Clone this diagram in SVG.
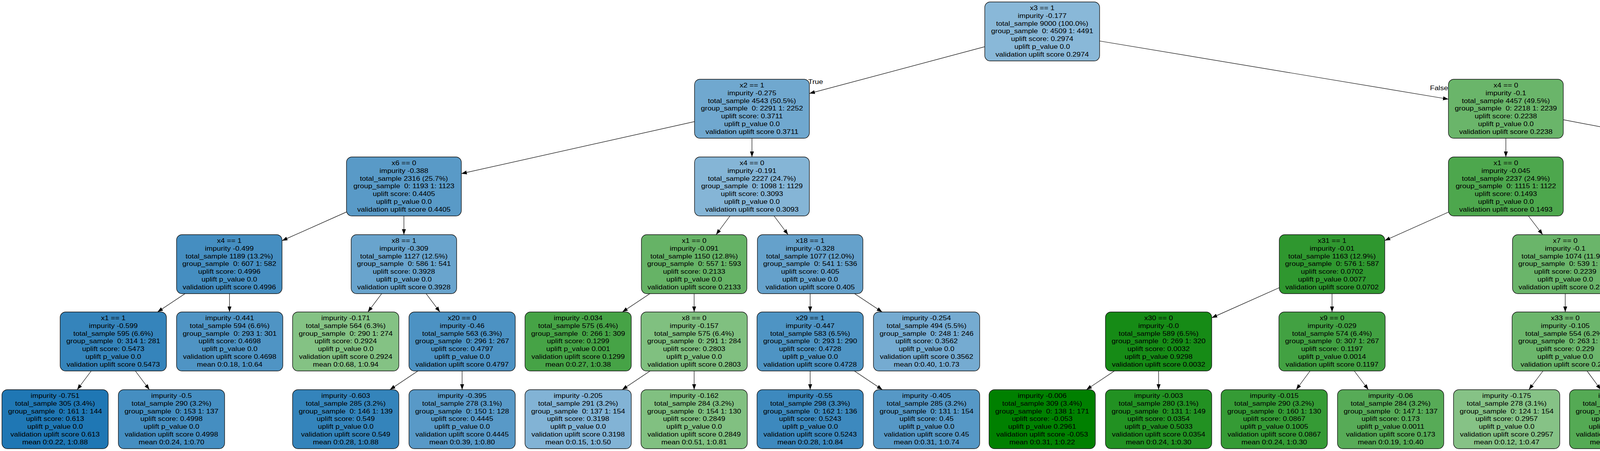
<svg xmlns="http://www.w3.org/2000/svg" width="6080" height="1155" viewBox="0 0 6080 1155">
<style>
.node rect{stroke:#111;stroke-width:1.4}
text{font-family:"Liberation Sans",Arial,Helvetica,sans-serif;font-size:16.5px;text-anchor:middle;white-space:pre;fill:#000}
.edges line{stroke:#000;stroke-width:1.2;marker-end:url(#ah)}
.edges text.st{text-anchor:start}
.edges text.en{text-anchor:end}
</style>
<defs>
<marker id="ah" viewBox="0 0 14 10" refX="14" refY="5" markerWidth="14" markerHeight="10" markerUnits="userSpaceOnUse" orient="auto"><path d="M0,0 L14,5 L0,10 z" fill="#000"/></marker>
</defs>
<rect width="6080" height="1155" fill="#fff"/>
<g id="edges" class="edges">
<line x1="2521" y1="119.7" x2="2072" y2="239.3"/>
<line x1="2815" y1="105" x2="3708" y2="254"/>
<line x1="1778" y1="311.3" x2="1181" y2="444.7"/>
<line x1="1925" y1="354" x2="1925" y2="402"/>
<line x1="3855" y1="354" x2="3855" y2="402"/>
<line x1="4002" y1="306.6" x2="4748" y2="449.4"/>
<line x1="887" y1="542.9" x2="722" y2="616.4"/>
<line x1="1034" y1="553" x2="1034" y2="601"/>
<line x1="1868.8" y1="553" x2="1833.2" y2="601"/>
<line x1="1981.5" y1="553" x2="2017.5" y2="601"/>
<line x1="3708" y1="543.2" x2="3545" y2="616.1"/>
<line x1="3912.7" y1="553" x2="3949.3" y2="601"/>
<line x1="4895" y1="553" x2="4895" y2="601"/>
<line x1="5042" y1="542.7" x2="5209" y2="616.7"/>
<line x1="473.8" y1="752" x2="403.2" y2="799"/>
<line x1="587.5" y1="752" x2="587.5" y2="799"/>
<line x1="977.2" y1="752" x2="941.8" y2="799"/>
<line x1="1090.8" y1="752" x2="1126.2" y2="799"/>
<line x1="1663.8" y1="752" x2="1593.2" y2="799"/>
<line x1="1777" y1="752" x2="1777" y2="799"/>
<line x1="2074" y1="752" x2="2074" y2="799"/>
<line x1="2187.6" y1="752" x2="2258.4" y2="799"/>
<line x1="3275" y1="736.7" x2="3102" y2="813.9"/>
<line x1="3410" y1="752" x2="3410" y2="799"/>
<line x1="4007" y1="752" x2="4007" y2="799"/>
<line x1="4142" y1="736.6" x2="4316" y2="814"/>
<line x1="4839.3" y1="752" x2="4804.7" y2="799"/>
<line x1="4952.6" y1="752" x2="4988.4" y2="799"/>
<line x1="5344" y1="752" x2="5344" y2="799"/>
<line x1="5457.2" y1="752" x2="5527.8" y2="799"/>
<line x1="233.5" y1="950" x2="197.5" y2="998"/>
<line x1="346.5" y1="950" x2="382.5" y2="998"/>
<line x1="1069.9" y1="950" x2="998.1" y2="998"/>
<line x1="1183" y1="950" x2="1183" y2="998"/>
<line x1="1664.3" y1="950" x2="1592.7" y2="998"/>
<line x1="1777" y1="950" x2="1777" y2="998"/>
<line x1="2074" y1="950" x2="2074" y2="998"/>
<line x1="2187.1" y1="950" x2="2258.9" y2="998"/>
<line x1="2852.9" y1="950" x2="2781.1" y2="998"/>
<line x1="2966" y1="950" x2="2966" y2="998"/>
<line x1="3353.8" y1="950" x2="3318.2" y2="998"/>
<line x1="3466.9" y1="950" x2="3503.1" y2="998"/>
<line x1="3950.1" y1="950" x2="3913.9" y2="998"/>
<line x1="4062.8" y1="950" x2="4098.2" y2="998"/>
<line x1="4452" y1="950" x2="4452" y2="998"/>
<line x1="4564.7" y1="950" x2="4636.3" y2="998"/>
<line x1="5046" y1="950" x2="5046" y2="998"/>
<line x1="5159.4" y1="950" x2="5231.6" y2="998"/>
<line x1="5641" y1="950" x2="5641" y2="998"/>
<line x1="5753.7" y1="950" x2="5825.3" y2="998"/>
<text class="st" transform="translate(2069 215) scale(1.145 1)">True</text>
<text class="en" transform="translate(3707 231) scale(1.145 1)">False</text>
</g>
<g id="n0" class="node"><rect x="2521" y="5" width="294" height="151" rx="14" fill="#89b8d8"/><text transform="translate(2668 26) scale(1.145 1)"><tspan x="0">x3 == 1</tspan><tspan x="0" dy="19.8">impurity -0.177</tspan><tspan x="0" dy="19.8">total_sample 9000 (100.0%)</tspan><tspan x="0" dy="19.8">group_sample  0: 4509 1: 4491</tspan><tspan x="0" dy="19.8">uplift score: 0.2974</tspan><tspan x="0" dy="19.8">uplift p_value 0.0</tspan><tspan x="0" dy="19.8">validation uplift score 0.2974</tspan></text></g>
<g id="n1" class="node"><rect x="1778" y="203" width="294" height="151" rx="14" fill="#70a8cf"/><text transform="translate(1925 224) scale(1.145 1)"><tspan x="0">x2 == 1</tspan><tspan x="0" dy="19.8">impurity -0.275</tspan><tspan x="0" dy="19.8">total_sample 4543 (50.5%)</tspan><tspan x="0" dy="19.8">group_sample  0: 2291 1: 2252</tspan><tspan x="0" dy="19.8">uplift score: 0.3711</tspan><tspan x="0" dy="19.8">uplift p_value 0.0</tspan><tspan x="0" dy="19.8">validation uplift score 0.3711</tspan></text></g>
<g id="n2" class="node"><rect x="3708" y="203" width="294" height="151" rx="14" fill="#6ab56a"/><text transform="translate(3855 224) scale(1.145 1)"><tspan x="0">x4 == 0</tspan><tspan x="0" dy="19.8">impurity -0.1</tspan><tspan x="0" dy="19.8">total_sample 4457 (49.5%)</tspan><tspan x="0" dy="19.8">group_sample  0: 2218 1: 2239</tspan><tspan x="0" dy="19.8">uplift score: 0.2238</tspan><tspan x="0" dy="19.8">uplift p_value 0.0</tspan><tspan x="0" dy="19.8">validation uplift score 0.2238</tspan></text></g>
<g id="n3" class="node"><rect x="887" y="402" width="294" height="151" rx="14" fill="#599ac7"/><text transform="translate(1034 423) scale(1.145 1)"><tspan x="0">x6 == 0</tspan><tspan x="0" dy="19.8">impurity -0.388</tspan><tspan x="0" dy="19.8">total_sample 2316 (25.7%)</tspan><tspan x="0" dy="19.8">group_sample  0: 1193 1: 1123</tspan><tspan x="0" dy="19.8">uplift score: 0.4405</tspan><tspan x="0" dy="19.8">uplift p_value 0.0</tspan><tspan x="0" dy="19.8">validation uplift score 0.4405</tspan></text></g>
<g id="n4" class="node"><rect x="1778" y="402" width="294" height="151" rx="14" fill="#85b5d6"/><text transform="translate(1925 423) scale(1.145 1)"><tspan x="0">x4 == 0</tspan><tspan x="0" dy="19.8">impurity -0.191</tspan><tspan x="0" dy="19.8">total_sample 2227 (24.7%)</tspan><tspan x="0" dy="19.8">group_sample  0: 1098 1: 1129</tspan><tspan x="0" dy="19.8">uplift score: 0.3093</tspan><tspan x="0" dy="19.8">uplift p_value 0.0</tspan><tspan x="0" dy="19.8">validation uplift score 0.3093</tspan></text></g>
<g id="n5" class="node"><rect x="3708" y="402" width="294" height="151" rx="14" fill="#4da74d"/><text transform="translate(3855 423) scale(1.145 1)"><tspan x="0">x1 == 0</tspan><tspan x="0" dy="19.8">impurity -0.045</tspan><tspan x="0" dy="19.8">total_sample 2237 (24.9%)</tspan><tspan x="0" dy="19.8">group_sample  0: 1115 1: 1122</tspan><tspan x="0" dy="19.8">uplift score: 0.1493</tspan><tspan x="0" dy="19.8">uplift p_value 0.0</tspan><tspan x="0" dy="19.8">validation uplift score 0.1493</tspan></text></g>
<g id="n6" class="node"><rect x="4748" y="402" width="294" height="151" rx="14" fill="#84c284"/><text transform="translate(4895 423) scale(1.145 1)"><tspan x="0">x2 == 1</tspan><tspan x="0" dy="19.8">impurity -0.171</tspan><tspan x="0" dy="19.8">total_sample 2220 (24.7%)</tspan><tspan x="0" dy="19.8">group_sample  0: 1103 1: 1117</tspan><tspan x="0" dy="19.8">uplift score: 0.2925</tspan><tspan x="0" dy="19.8">uplift p_value 0.0</tspan><tspan x="0" dy="19.8">validation uplift score 0.2925</tspan></text></g>
<g id="n7" class="node"><rect x="452" y="601" width="270" height="151" rx="14" fill="#458ec1"/><text transform="translate(587 622) scale(1.145 1)"><tspan x="0">x4 == 1</tspan><tspan x="0" dy="19.8">impurity -0.499</tspan><tspan x="0" dy="19.8">total_sample 1189 (13.2%)</tspan><tspan x="0" dy="19.8">group_sample  0: 607 1: 582</tspan><tspan x="0" dy="19.8">uplift score: 0.4996</tspan><tspan x="0" dy="19.8">uplift p_value 0.0</tspan><tspan x="0" dy="19.8">validation uplift score 0.4996</tspan></text></g>
<g id="n8" class="node"><rect x="899" y="601" width="270" height="151" rx="14" fill="#69a4cd"/><text transform="translate(1034 622) scale(1.145 1)"><tspan x="0">x8 == 1</tspan><tspan x="0" dy="19.8">impurity -0.309</tspan><tspan x="0" dy="19.8">total_sample 1127 (12.5%)</tspan><tspan x="0" dy="19.8">group_sample  0: 586 1: 541</tspan><tspan x="0" dy="19.8">uplift score: 0.3928</tspan><tspan x="0" dy="19.8">uplift p_value 0.0</tspan><tspan x="0" dy="19.8">validation uplift score 0.3928</tspan></text></g>
<g id="n9" class="node"><rect x="1642" y="601" width="270" height="151" rx="14" fill="#66b366"/><text transform="translate(1777 622) scale(1.145 1)"><tspan x="0">x1 == 0</tspan><tspan x="0" dy="19.8">impurity -0.091</tspan><tspan x="0" dy="19.8">total_sample 1150 (12.8%)</tspan><tspan x="0" dy="19.8">group_sample  0: 557 1: 593</tspan><tspan x="0" dy="19.8">uplift score: 0.2133</tspan><tspan x="0" dy="19.8">uplift p_value 0.0</tspan><tspan x="0" dy="19.8">validation uplift score 0.2133</tspan></text></g>
<g id="n10" class="node"><rect x="1939" y="601" width="270" height="151" rx="14" fill="#65a1cb"/><text transform="translate(2074 622) scale(1.145 1)"><tspan x="0">x18 == 1</tspan><tspan x="0" dy="19.8">impurity -0.328</tspan><tspan x="0" dy="19.8">total_sample 1077 (12.0%)</tspan><tspan x="0" dy="19.8">group_sample  0: 541 1: 536</tspan><tspan x="0" dy="19.8">uplift score: 0.405</tspan><tspan x="0" dy="19.8">uplift p_value 0.0</tspan><tspan x="0" dy="19.8">validation uplift score 0.405</tspan></text></g>
<g id="n11" class="node"><rect x="3275" y="601" width="270" height="151" rx="14" fill="#2f972f"/><text transform="translate(3410 622) scale(1.145 1)"><tspan x="0">x31 == 1</tspan><tspan x="0" dy="19.8">impurity -0.01</tspan><tspan x="0" dy="19.8">total_sample 1163 (12.9%)</tspan><tspan x="0" dy="19.8">group_sample  0: 576 1: 587</tspan><tspan x="0" dy="19.8">uplift score: 0.0702</tspan><tspan x="0" dy="19.8">uplift p_value 0.0077</tspan><tspan x="0" dy="19.8">validation uplift score 0.0702</tspan></text></g>
<g id="n12" class="node"><rect x="3872" y="601" width="270" height="151" rx="14" fill="#6ab56a"/><text transform="translate(4007 622) scale(1.145 1)"><tspan x="0">x7 == 0</tspan><tspan x="0" dy="19.8">impurity -0.1</tspan><tspan x="0" dy="19.8">total_sample 1074 (11.9%)</tspan><tspan x="0" dy="19.8">group_sample  0: 539 1: 535</tspan><tspan x="0" dy="19.8">uplift score: 0.2239</tspan><tspan x="0" dy="19.8">uplift p_value 0.0</tspan><tspan x="0" dy="19.8">validation uplift score 0.2239</tspan></text></g>
<g id="n13" class="node"><rect x="4760" y="601" width="270" height="151" rx="14" fill="#71a9cf"/><text transform="translate(4895 622) scale(1.145 1)"><tspan x="0">x29 == 0</tspan><tspan x="0" dy="19.8">impurity -0.273</tspan><tspan x="0" dy="19.8">total_sample 1119 (12.4%)</tspan><tspan x="0" dy="19.8">group_sample  0: 578 1: 541</tspan><tspan x="0" dy="19.8">uplift score: 0.3696</tspan><tspan x="0" dy="19.8">uplift p_value 0.0</tspan><tspan x="0" dy="19.8">validation uplift score 0.3696</tspan></text></g>
<g id="n14" class="node"><rect x="5209" y="601" width="270" height="151" rx="14" fill="#6eb76e"/><text transform="translate(5344 622) scale(1.145 1)"><tspan x="0">x6 == 1</tspan><tspan x="0" dy="19.8">impurity -0.109</tspan><tspan x="0" dy="19.8">total_sample 1101 (12.2%)</tspan><tspan x="0" dy="19.8">group_sample  0: 525 1: 576</tspan><tspan x="0" dy="19.8">uplift score: 0.2333</tspan><tspan x="0" dy="19.8">uplift p_value 0.0</tspan><tspan x="0" dy="19.8">validation uplift score 0.2333</tspan></text></g>
<g id="n15" class="node"><rect x="154" y="799" width="272" height="151" rx="14" fill="#3584bb"/><text transform="translate(290 820) scale(1.145 1)"><tspan x="0">x1 == 1</tspan><tspan x="0" dy="19.8">impurity -0.599</tspan><tspan x="0" dy="19.8">total_sample 595 (6.6%)</tspan><tspan x="0" dy="19.8">group_sample  0: 314 1: 281</tspan><tspan x="0" dy="19.8">uplift score: 0.5473</tspan><tspan x="0" dy="19.8">uplift p_value 0.0</tspan><tspan x="0" dy="19.8">validation uplift score 0.5473</tspan></text></g>
<g id="n16" class="node"><rect x="452" y="799" width="272" height="151" rx="14" fill="#4f94c4"/><text transform="translate(588 820) scale(1.145 1)"><tspan x="0">impurity -0.441</tspan><tspan x="0" dy="19.8">total_sample 594 (6.6%)</tspan><tspan x="0" dy="19.8">group_sample  0: 293 1: 301</tspan><tspan x="0" dy="19.8">uplift score: 0.4698</tspan><tspan x="0" dy="19.8">uplift p_value 0.0</tspan><tspan x="0" dy="19.8">validation uplift score 0.4698</tspan><tspan x="0" dy="19.8">mean 0:0.18, 1:0.64</tspan></text></g>
<g id="n17" class="node"><rect x="749" y="799" width="272" height="151" rx="14" fill="#84c284"/><text transform="translate(885 820) scale(1.145 1)"><tspan x="0">impurity -0.171</tspan><tspan x="0" dy="19.8">total_sample 564 (6.3%)</tspan><tspan x="0" dy="19.8">group_sample  0: 290 1: 274</tspan><tspan x="0" dy="19.8">uplift score: 0.2924</tspan><tspan x="0" dy="19.8">uplift p_value 0.0</tspan><tspan x="0" dy="19.8">validation uplift score 0.2924</tspan><tspan x="0" dy="19.8">mean 0:0.68, 1:0.94</tspan></text></g>
<g id="n18" class="node"><rect x="1047" y="799" width="272" height="151" rx="14" fill="#4c92c3"/><text transform="translate(1183 820) scale(1.145 1)"><tspan x="0">x20 == 0</tspan><tspan x="0" dy="19.8">impurity -0.46</tspan><tspan x="0" dy="19.8">total_sample 563 (6.3%)</tspan><tspan x="0" dy="19.8">group_sample  0: 296 1: 267</tspan><tspan x="0" dy="19.8">uplift score: 0.4797</tspan><tspan x="0" dy="19.8">uplift p_value 0.0</tspan><tspan x="0" dy="19.8">validation uplift score 0.4797</tspan></text></g>
<g id="n19" class="node"><rect x="1344" y="799" width="272" height="151" rx="14" fill="#46a346"/><text transform="translate(1480 820) scale(1.145 1)"><tspan x="0">impurity -0.034</tspan><tspan x="0" dy="19.8">total_sample 575 (6.4%)</tspan><tspan x="0" dy="19.8">group_sample  0: 266 1: 309</tspan><tspan x="0" dy="19.8">uplift score: 0.1299</tspan><tspan x="0" dy="19.8">uplift p_value 0.001</tspan><tspan x="0" dy="19.8">validation uplift score 0.1299</tspan><tspan x="0" dy="19.8">mean 0:0.27, 1:0.38</tspan></text></g>
<g id="n20" class="node"><rect x="1641" y="799" width="272" height="151" rx="14" fill="#80c080"/><text transform="translate(1777 820) scale(1.145 1)"><tspan x="0">x8 == 0</tspan><tspan x="0" dy="19.8">impurity -0.157</tspan><tspan x="0" dy="19.8">total_sample 575 (6.4%)</tspan><tspan x="0" dy="19.8">group_sample  0: 291 1: 284</tspan><tspan x="0" dy="19.8">uplift score: 0.2803</tspan><tspan x="0" dy="19.8">uplift p_value 0.0</tspan><tspan x="0" dy="19.8">validation uplift score 0.2803</tspan></text></g>
<g id="n21" class="node"><rect x="1938" y="799" width="272" height="151" rx="14" fill="#4e94c4"/><text transform="translate(2074 820) scale(1.145 1)"><tspan x="0">x29 == 1</tspan><tspan x="0" dy="19.8">impurity -0.447</tspan><tspan x="0" dy="19.8">total_sample 583 (6.5%)</tspan><tspan x="0" dy="19.8">group_sample  0: 293 1: 290</tspan><tspan x="0" dy="19.8">uplift score: 0.4728</tspan><tspan x="0" dy="19.8">uplift p_value 0.0</tspan><tspan x="0" dy="19.8">validation uplift score 0.4728</tspan></text></g>
<g id="n22" class="node"><rect x="2236" y="799" width="272" height="151" rx="14" fill="#75abd1"/><text transform="translate(2372 820) scale(1.145 1)"><tspan x="0">impurity -0.254</tspan><tspan x="0" dy="19.8">total_sample 494 (5.5%)</tspan><tspan x="0" dy="19.8">group_sample  0: 248 1: 246</tspan><tspan x="0" dy="19.8">uplift score: 0.3562</tspan><tspan x="0" dy="19.8">uplift p_value 0.0</tspan><tspan x="0" dy="19.8">validation uplift score 0.3562</tspan><tspan x="0" dy="19.8">mean 0:0.40, 1:0.73</tspan></text></g>
<g id="n23" class="node"><rect x="2830" y="799" width="272" height="151" rx="14" fill="#168b16"/><text transform="translate(2966 820) scale(1.145 1)"><tspan x="0">x30 == 0</tspan><tspan x="0" dy="19.8">impurity -0.0</tspan><tspan x="0" dy="19.8">total_sample 589 (6.5%)</tspan><tspan x="0" dy="19.8">group_sample  0: 269 1: 320</tspan><tspan x="0" dy="19.8">uplift score: 0.0032</tspan><tspan x="0" dy="19.8">uplift p_value 0.9298</tspan><tspan x="0" dy="19.8">validation uplift score 0.0032</tspan></text></g>
<g id="n24" class="node"><rect x="3274" y="799" width="272" height="151" rx="14" fill="#42a142"/><text transform="translate(3410 820) scale(1.145 1)"><tspan x="0">x9 == 0</tspan><tspan x="0" dy="19.8">impurity -0.029</tspan><tspan x="0" dy="19.8">total_sample 574 (6.4%)</tspan><tspan x="0" dy="19.8">group_sample  0: 307 1: 267</tspan><tspan x="0" dy="19.8">uplift score: 0.1197</tspan><tspan x="0" dy="19.8">uplift p_value 0.0014</tspan><tspan x="0" dy="19.8">validation uplift score 0.1197</tspan></text></g>
<g id="n25" class="node"><rect x="3871" y="799" width="272" height="151" rx="14" fill="#6cb66c"/><text transform="translate(4007 820) scale(1.145 1)"><tspan x="0">x33 == 0</tspan><tspan x="0" dy="19.8">impurity -0.105</tspan><tspan x="0" dy="19.8">total_sample 554 (6.2%)</tspan><tspan x="0" dy="19.8">group_sample  0: 263 1: 291</tspan><tspan x="0" dy="19.8">uplift score: 0.229</tspan><tspan x="0" dy="19.8">uplift p_value 0.0</tspan><tspan x="0" dy="19.8">validation uplift score 0.229</tspan></text></g>
<g id="n26" class="node"><rect x="4316" y="799" width="272" height="151" rx="14" fill="#77bb77"/><text transform="translate(4452 820) scale(1.145 1)"><tspan x="0">x12 == 1</tspan><tspan x="0" dy="19.8">impurity -0.132</tspan><tspan x="0" dy="19.8">total_sample 520 (5.8%)</tspan><tspan x="0" dy="19.8">group_sample  0: 276 1: 244</tspan><tspan x="0" dy="19.8">uplift score: 0.2572</tspan><tspan x="0" dy="19.8">uplift p_value 0.0</tspan><tspan x="0" dy="19.8">validation uplift score 0.2572</tspan></text></g>
<g id="n27" class="node"><rect x="4613" y="799" width="272" height="151" rx="14" fill="#7db0d3"/><text transform="translate(4749 820) scale(1.145 1)"><tspan x="0">impurity -0.223</tspan><tspan x="0" dy="19.8">total_sample 598 (6.6%)</tspan><tspan x="0" dy="19.8">group_sample  0: 303 1: 295</tspan><tspan x="0" dy="19.8">uplift score: 0.3337</tspan><tspan x="0" dy="19.8">uplift p_value 0.0</tspan><tspan x="0" dy="19.8">validation uplift score 0.3337</tspan><tspan x="0" dy="19.8">mean 0:0.36, 1:0.68</tspan></text></g>
<g id="n28" class="node"><rect x="4910" y="799" width="272" height="151" rx="14" fill="#5c9cc8"/><text transform="translate(5046 820) scale(1.145 1)"><tspan x="0">x8 == 0</tspan><tspan x="0" dy="19.8">impurity -0.375</tspan><tspan x="0" dy="19.8">total_sample 521 (5.8%)</tspan><tspan x="0" dy="19.8">group_sample  0: 275 1: 246</tspan><tspan x="0" dy="19.8">uplift score: 0.4327</tspan><tspan x="0" dy="19.8">uplift p_value 0.0</tspan><tspan x="0" dy="19.8">validation uplift score 0.4327</tspan></text></g>
<g id="n29" class="node"><rect x="5208" y="799" width="272" height="151" rx="14" fill="#58ac58"/><text transform="translate(5344 820) scale(1.145 1)"><tspan x="0">impurity -0.062</tspan><tspan x="0" dy="19.8">total_sample 556 (6.2%)</tspan><tspan x="0" dy="19.8">group_sample  0: 274 1: 282</tspan><tspan x="0" dy="19.8">uplift score: 0.1758</tspan><tspan x="0" dy="19.8">uplift p_value 0.0</tspan><tspan x="0" dy="19.8">validation uplift score 0.1758</tspan><tspan x="0" dy="19.8">mean 0:0.44, 1:0.59</tspan></text></g>
<g id="n30" class="node"><rect x="5505" y="799" width="272" height="151" rx="14" fill="#82c182"/><text transform="translate(5641 820) scale(1.145 1)"><tspan x="0">x8 == 1</tspan><tspan x="0" dy="19.8">impurity -0.163</tspan><tspan x="0" dy="19.8">total_sample 545 (6.1%)</tspan><tspan x="0" dy="19.8">group_sample  0: 251 1: 294</tspan><tspan x="0" dy="19.8">uplift score: 0.2856</tspan><tspan x="0" dy="19.8">uplift p_value 0.0</tspan><tspan x="0" dy="19.8">validation uplift score 0.2856</tspan></text></g>
<g id="n31" class="node"><rect x="5" y="998" width="272" height="151" rx="14" fill="#1f77b4"/><text transform="translate(141 1019) scale(1.145 1)"><tspan x="0">impurity -0.751</tspan><tspan x="0" dy="19.8">total_sample 305 (3.4%)</tspan><tspan x="0" dy="19.8">group_sample  0: 161 1: 144</tspan><tspan x="0" dy="19.8">uplift score: 0.613</tspan><tspan x="0" dy="19.8">uplift p_value 0.0</tspan><tspan x="0" dy="19.8">validation uplift score 0.613</tspan><tspan x="0" dy="19.8">mean 0:0.22, 1:0.88</tspan></text></g>
<g id="n32" class="node"><rect x="303" y="998" width="272" height="151" rx="14" fill="#458ec1"/><text transform="translate(439 1019) scale(1.145 1)"><tspan x="0">impurity -0.5</tspan><tspan x="0" dy="19.8">total_sample 290 (3.2%)</tspan><tspan x="0" dy="19.8">group_sample  0: 153 1: 137</tspan><tspan x="0" dy="19.8">uplift score: 0.4998</tspan><tspan x="0" dy="19.8">uplift p_value 0.0</tspan><tspan x="0" dy="19.8">validation uplift score 0.4998</tspan><tspan x="0" dy="19.8">mean 0:0.24, 1:0.70</tspan></text></g>
<g id="n33" class="node"><rect x="749" y="998" width="272" height="151" rx="14" fill="#3484bb"/><text transform="translate(885 1019) scale(1.145 1)"><tspan x="0">impurity -0.603</tspan><tspan x="0" dy="19.8">total_sample 285 (3.2%)</tspan><tspan x="0" dy="19.8">group_sample  0: 146 1: 139</tspan><tspan x="0" dy="19.8">uplift score: 0.549</tspan><tspan x="0" dy="19.8">uplift p_value 0.0</tspan><tspan x="0" dy="19.8">validation uplift score 0.549</tspan><tspan x="0" dy="19.8">mean 0:0.28, 1:0.88</tspan></text></g>
<g id="n34" class="node"><rect x="1047" y="998" width="272" height="151" rx="14" fill="#5899c7"/><text transform="translate(1183 1019) scale(1.145 1)"><tspan x="0">impurity -0.395</tspan><tspan x="0" dy="19.8">total_sample 278 (3.1%)</tspan><tspan x="0" dy="19.8">group_sample  0: 150 1: 128</tspan><tspan x="0" dy="19.8">uplift score: 0.4445</tspan><tspan x="0" dy="19.8">uplift p_value 0.0</tspan><tspan x="0" dy="19.8">validation uplift score 0.4445</tspan><tspan x="0" dy="19.8">mean 0:0.39, 1:0.80</tspan></text></g>
<g id="n35" class="node"><rect x="1344" y="998" width="272" height="151" rx="14" fill="#82b3d5"/><text transform="translate(1480 1019) scale(1.145 1)"><tspan x="0">impurity -0.205</tspan><tspan x="0" dy="19.8">total_sample 291 (3.2%)</tspan><tspan x="0" dy="19.8">group_sample  0: 137 1: 154</tspan><tspan x="0" dy="19.8">uplift score: 0.3198</tspan><tspan x="0" dy="19.8">uplift p_value 0.0</tspan><tspan x="0" dy="19.8">validation uplift score 0.3198</tspan><tspan x="0" dy="19.8">mean 0:0.15, 1:0.50</tspan></text></g>
<g id="n36" class="node"><rect x="1641" y="998" width="272" height="151" rx="14" fill="#81c081"/><text transform="translate(1777 1019) scale(1.145 1)"><tspan x="0">impurity -0.162</tspan><tspan x="0" dy="19.8">total_sample 284 (3.2%)</tspan><tspan x="0" dy="19.8">group_sample  0: 154 1: 130</tspan><tspan x="0" dy="19.8">uplift score: 0.2849</tspan><tspan x="0" dy="19.8">uplift p_value 0.0</tspan><tspan x="0" dy="19.8">validation uplift score 0.2849</tspan><tspan x="0" dy="19.8">mean 0:0.51, 1:0.81</tspan></text></g>
<g id="n37" class="node"><rect x="1938" y="998" width="272" height="151" rx="14" fill="#3d89be"/><text transform="translate(2074 1019) scale(1.145 1)"><tspan x="0">impurity -0.55</tspan><tspan x="0" dy="19.8">total_sample 298 (3.3%)</tspan><tspan x="0" dy="19.8">group_sample  0: 162 1: 136</tspan><tspan x="0" dy="19.8">uplift score: 0.5243</tspan><tspan x="0" dy="19.8">uplift p_value 0.0</tspan><tspan x="0" dy="19.8">validation uplift score 0.5243</tspan><tspan x="0" dy="19.8">mean 0:0.28, 1:0.84</tspan></text></g>
<g id="n38" class="node"><rect x="2236" y="998" width="272" height="151" rx="14" fill="#5698c6"/><text transform="translate(2372 1019) scale(1.145 1)"><tspan x="0">impurity -0.405</tspan><tspan x="0" dy="19.8">total_sample 285 (3.2%)</tspan><tspan x="0" dy="19.8">group_sample  0: 131 1: 154</tspan><tspan x="0" dy="19.8">uplift score: 0.45</tspan><tspan x="0" dy="19.8">uplift p_value 0.0</tspan><tspan x="0" dy="19.8">validation uplift score 0.45</tspan><tspan x="0" dy="19.8">mean 0:0.31, 1:0.74</tspan></text></g>
<g id="n39" class="node"><rect x="2532" y="998" width="272" height="151" rx="14" fill="#008000"/><text transform="translate(2668 1019) scale(1.145 1)"><tspan x="0">impurity -0.006</tspan><tspan x="0" dy="19.8">total_sample 309 (3.4%)</tspan><tspan x="0" dy="19.8">group_sample  0: 138 1: 171</tspan><tspan x="0" dy="19.8">uplift score: -0.053</tspan><tspan x="0" dy="19.8">uplift p_value 0.2961</tspan><tspan x="0" dy="19.8">validation uplift score -0.053</tspan><tspan x="0" dy="19.8">mean 0:0.31, 1:0.22</tspan></text></g>
<g id="n40" class="node"><rect x="2830" y="998" width="272" height="151" rx="14" fill="#229122"/><text transform="translate(2966 1019) scale(1.145 1)"><tspan x="0">impurity -0.003</tspan><tspan x="0" dy="19.8">total_sample 280 (3.1%)</tspan><tspan x="0" dy="19.8">group_sample  0: 131 1: 149</tspan><tspan x="0" dy="19.8">uplift score: 0.0354</tspan><tspan x="0" dy="19.8">uplift p_value 0.5033</tspan><tspan x="0" dy="19.8">validation uplift score 0.0354</tspan><tspan x="0" dy="19.8">mean 0:0.24, 1:0.30</tspan></text></g>
<g id="n41" class="node"><rect x="3126" y="998" width="272" height="151" rx="14" fill="#359b35"/><text transform="translate(3262 1019) scale(1.145 1)"><tspan x="0">impurity -0.015</tspan><tspan x="0" dy="19.8">total_sample 290 (3.2%)</tspan><tspan x="0" dy="19.8">group_sample  0: 160 1: 130</tspan><tspan x="0" dy="19.8">uplift score: 0.0867</tspan><tspan x="0" dy="19.8">uplift p_value 0.1005</tspan><tspan x="0" dy="19.8">validation uplift score 0.0867</tspan><tspan x="0" dy="19.8">mean 0:0.24, 1:0.30</tspan></text></g>
<g id="n42" class="node"><rect x="3424" y="998" width="272" height="151" rx="14" fill="#57ab57"/><text transform="translate(3560 1019) scale(1.145 1)"><tspan x="0">impurity -0.06</tspan><tspan x="0" dy="19.8">total_sample 284 (3.2%)</tspan><tspan x="0" dy="19.8">group_sample  0: 147 1: 137</tspan><tspan x="0" dy="19.8">uplift score: 0.173</tspan><tspan x="0" dy="19.8">uplift p_value 0.0011</tspan><tspan x="0" dy="19.8">validation uplift score 0.173</tspan><tspan x="0" dy="19.8">mean 0:0.19, 1:0.40</tspan></text></g>
<g id="n43" class="node"><rect x="3721" y="998" width="272" height="151" rx="14" fill="#86c286"/><text transform="translate(3857 1019) scale(1.145 1)"><tspan x="0">impurity -0.175</tspan><tspan x="0" dy="19.8">total_sample 278 (3.1%)</tspan><tspan x="0" dy="19.8">group_sample  0: 124 1: 154</tspan><tspan x="0" dy="19.8">uplift score: 0.2957</tspan><tspan x="0" dy="19.8">uplift p_value 0.0</tspan><tspan x="0" dy="19.8">validation uplift score 0.2957</tspan><tspan x="0" dy="19.8">mean 0:0.12, 1:0.47</tspan></text></g>
<g id="n44" class="node"><rect x="4018" y="998" width="272" height="151" rx="14" fill="#54aa54"/><text transform="translate(4154 1019) scale(1.145 1)"><tspan x="0">impurity -0.055</tspan><tspan x="0" dy="19.8">total_sample 276 (3.1%)</tspan><tspan x="0" dy="19.8">group_sample  0: 139 1: 137</tspan><tspan x="0" dy="19.8">uplift score: 0.1659</tspan><tspan x="0" dy="19.8">uplift p_value 0.0021</tspan><tspan x="0" dy="19.8">validation uplift score 0.1659</tspan><tspan x="0" dy="19.8">mean 0:0.22, 1:0.34</tspan></text></g>
<g id="n45" class="node"><rect x="4316" y="998" width="272" height="151" rx="14" fill="#82b3d5"/><text transform="translate(4452 1019) scale(1.145 1)"><tspan x="0">impurity -0.204</tspan><tspan x="0" dy="19.8">total_sample 275 (3.1%)</tspan><tspan x="0" dy="19.8">group_sample  0: 133 1: 142</tspan><tspan x="0" dy="19.8">uplift score: 0.319</tspan><tspan x="0" dy="19.8">uplift p_value 0.0</tspan><tspan x="0" dy="19.8">validation uplift score 0.319</tspan><tspan x="0" dy="19.8">mean 0:0.38, 1:0.74</tspan></text></g>
<g id="n46" class="node"><rect x="4613" y="998" width="272" height="151" rx="14" fill="#66b366"/><text transform="translate(4749 1019) scale(1.145 1)"><tspan x="0">impurity -0.09</tspan><tspan x="0" dy="19.8">total_sample 245 (2.7%)</tspan><tspan x="0" dy="19.8">group_sample  0: 143 1: 102</tspan><tspan x="0" dy="19.8">uplift score: 0.2125</tspan><tspan x="0" dy="19.8">uplift p_value 0.0006</tspan><tspan x="0" dy="19.8">validation uplift score 0.2125</tspan><tspan x="0" dy="19.8">mean 0:0.51, 1:0.70</tspan></text></g>
<g id="n47" class="node"><rect x="4910" y="998" width="272" height="151" rx="14" fill="#458ec1"/><text transform="translate(5046 1019) scale(1.145 1)"><tspan x="0">impurity -0.499</tspan><tspan x="0" dy="19.8">total_sample 279 (3.1%)</tspan><tspan x="0" dy="19.8">group_sample  0: 146 1: 133</tspan><tspan x="0" dy="19.8">uplift score: 0.4995</tspan><tspan x="0" dy="19.8">uplift p_value 0.0</tspan><tspan x="0" dy="19.8">validation uplift score 0.4995</tspan><tspan x="0" dy="19.8">mean 0:0.17, 1:0.71</tspan></text></g>
<g id="n48" class="node"><rect x="5209" y="998" width="272" height="151" rx="14" fill="#6aa4cd"/><text transform="translate(5345 1019) scale(1.145 1)"><tspan x="0">impurity -0.306</tspan><tspan x="0" dy="19.8">total_sample 242 (2.7%)</tspan><tspan x="0" dy="19.8">group_sample  0: 129 1: 113</tspan><tspan x="0" dy="19.8">uplift score: 0.3911</tspan><tspan x="0" dy="19.8">uplift p_value 0.0</tspan><tspan x="0" dy="19.8">validation uplift score 0.3911</tspan><tspan x="0" dy="19.8">mean 0:0.52, 1:0.88</tspan></text></g>
<g id="n49" class="node"><rect x="5505" y="998" width="272" height="151" rx="14" fill="#79add2"/><text transform="translate(5641 1019) scale(1.145 1)"><tspan x="0">impurity -0.24</tspan><tspan x="0" dy="19.8">total_sample 278 (3.1%)</tspan><tspan x="0" dy="19.8">group_sample  0: 135 1: 143</tspan><tspan x="0" dy="19.8">uplift score: 0.3465</tspan><tspan x="0" dy="19.8">uplift p_value 0.0</tspan><tspan x="0" dy="19.8">validation uplift score 0.3465</tspan><tspan x="0" dy="19.8">mean 0:0.18, 1:0.57</tspan></text></g>
<g id="n50" class="node"><rect x="5802" y="998" width="272" height="151" rx="14" fill="#77bb77"/><text transform="translate(5938 1019) scale(1.145 1)"><tspan x="0">impurity -0.132</tspan><tspan x="0" dy="19.8">total_sample 267 (3.0%)</tspan><tspan x="0" dy="19.8">group_sample  0: 116 1: 151</tspan><tspan x="0" dy="19.8">uplift score: 0.257</tspan><tspan x="0" dy="19.8">uplift p_value 0.0</tspan><tspan x="0" dy="19.8">validation uplift score 0.257</tspan><tspan x="0" dy="19.8">mean 0:0.03, 1:0.28</tspan></text></g>
</svg>
